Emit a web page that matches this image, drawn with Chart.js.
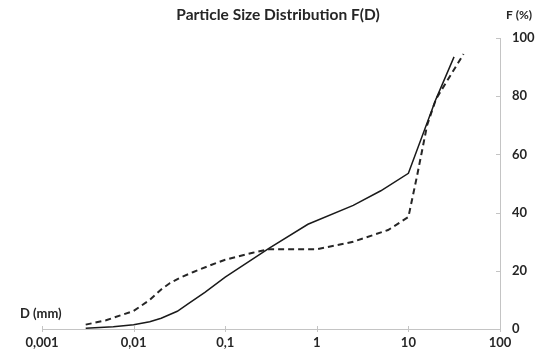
<!DOCTYPE html>
<html>
<head>
<meta charset="utf-8">
<script src="https://cdn.jsdelivr.net/npm/chart.js@4"></script>
<style>
  html, body { margin: 0; padding: 0; background: #fff; }
  #wrap { width: 543px; height: 360px; }
</style>
</head>
<body>
<div id="wrap"><canvas id="psd"></canvas></div>
<script>
// values
const solidD = [0.003, 0.006, 0.01, 0.015, 0.02, 0.03, 0.04, 0.06, 0.1, 0.3, 0.8, 2.5, 5, 10, 20, 31.5];
const solidF = [0.3, 0.8, 1.5, 2.5, 3.7, 6.1, 8.8, 12.6, 17.8, 27.7, 36, 42.5, 47.5, 53.5, 79, 93.5];

const dashD = [0.003, 0.005, 0.01, 0.015, 0.02, 0.025, 0.032, 0.045, 0.07, 0.1, 0.2, 0.3, 1, 2.5, 6, 10, 12.5, 16, 20, 40];
const dashF = [1.5, 3, 6.2, 10, 13.6, 15.8, 17.6, 19.6, 22, 23.8, 26.2, 27.4, 27.4, 30, 34, 38.5, 53, 70, 79, 94.5];

const xTicks = [0.001, 0.01, 0.1, 1, 10, 100];
const xTickLabels = ["0,001", "0,01", "0,1", "1", "10", "100"];
const yTicks = [0, 20, 40, 60, 80, 100];

const titleText = "Particle Size Distribution F(D)";
const xTitle = "D (mm)";
const yTitle = "F (%)";

const textColor = "#262626";
const axisColor = "#c4c4c4";

function toPoints(xs, ys) {
  return xs.map((x, i) => ({ x: x, y: ys[i] }));
}

// extra labels + the little tick marks Excel draws
const decorations = {
  id: "decorations",
  afterDraw(chart) {
    const ctx = chart.ctx;
    const area = chart.chartArea;
    const xs = chart.scales.x;
    const ys = chart.scales.y;

    ctx.save();
    ctx.strokeStyle = axisColor;
    ctx.lineWidth = 1;
    ctx.beginPath();
    xTicks.forEach(v => {
      const px = Math.round(xs.getPixelForValue(v)) + 0.5;
      ctx.moveTo(px, area.bottom - 3);
      ctx.lineTo(px, area.bottom + 3);
    });
    yTicks.forEach(v => {
      const py = Math.round(ys.getPixelForValue(v)) + 0.5;
      ctx.moveTo(area.right - 4, py);
      ctx.lineTo(area.right, py);
    });
    ctx.stroke();

    ctx.fillStyle = textColor;
    ctx.textBaseline = "middle";

    ctx.font = "bold 15.5px Lato";
    ctx.textAlign = "center";
    ctx.fillText(titleText, 278, 15);

    ctx.font = "bold 12px Lato";
    ctx.fillText(yTitle, area.right + 19, 15);

    ctx.font = "bold 13px Lato";
    ctx.textAlign = "left";
    ctx.fillText(xTitle, 20, area.bottom - 15);
    ctx.restore();
  }
};

new Chart(document.getElementById("psd"), {
  type: "scatter",
  data: {
    datasets: [
      {
        label: "F(D) 1",
        data: toPoints(solidD, solidF),
        showLine: true,
        borderColor: "#1a1a1a",
        borderWidth: 1.5,
        pointRadius: 0,
        tension: 0
      },
      {
        label: "F(D) 2",
        data: toPoints(dashD, dashF),
        showLine: true,
        borderColor: "#262626",
        borderWidth: 2,
        borderDash: [6, 4],
        pointRadius: 0,
        tension: 0
      }
    ]
  },
  options: {
    responsive: true,
    maintainAspectRatio: false,
    animation: false,
    layout: { padding: { top: 38, left: 42, right: 0, bottom: 0 } },
    plugins: {
      legend: { display: false },
      title: { display: false },
      tooltip: { enabled: false }
    },
    scales: {
      x: {
        type: "logarithmic",
        min: 0.001,
        max: 100,
        afterBuildTicks: s => { s.ticks = xTicks.map(v => ({ value: v })); },
        afterFit: s => { s.height = 31; },
        grid: { display: false, drawTicks: false },
        border: { display: true, color: axisColor, width: 1 },
        ticks: {
          color: textColor,
          font: { family: "Lato", size: 13, weight: "bold" },
          padding: 6,
          maxRotation: 0,
          autoSkip: false,
          callback: (v) => {
            const i = xTicks.findIndex(t => Math.abs(t - v) < t * 1e-6);
            return i >= 0 ? xTickLabels[i] : "";
          }
        }
      },
      y: {
        position: "right",
        min: 0,
        max: 100,
        afterBuildTicks: s => { s.ticks = yTicks.map(v => ({ value: v })); },
        afterFit: s => { s.width = 43; },
        grid: { display: false, drawTicks: false },
        border: { display: true, color: axisColor, width: 1 },
        ticks: {
          color: textColor,
          font: { family: "Lato", size: 13, weight: "bold" },
          padding: 12
        }
      }
    }
  },
  plugins: [decorations]
});
</script>
</body>
</html>
